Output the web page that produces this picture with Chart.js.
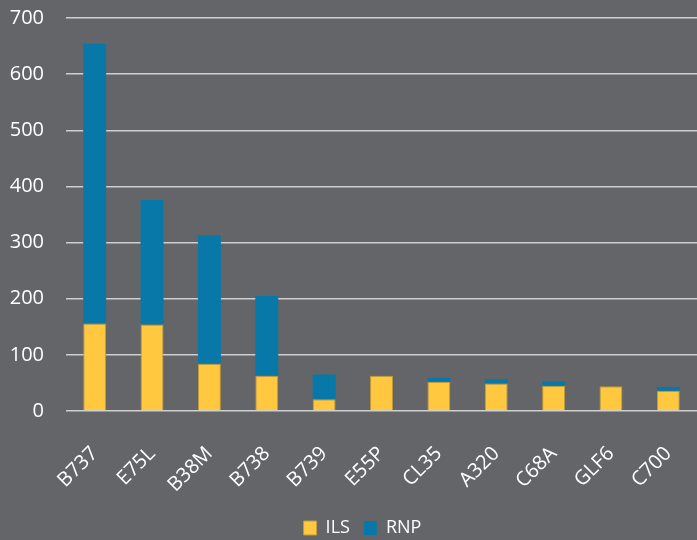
<!DOCTYPE html>
<html>
<head>
<meta charset="utf-8">
<script src="https://cdn.jsdelivr.net/npm/chart.js@4"></script>
<style>
  html, body { margin: 0; padding: 0; background: #636569; }
  #wrap { width: 697px; height: 540px; }
</style>
</head>
<body>
<div id="wrap"><canvas id="chart"></canvas></div>
<script>
const aircraft = ['B737', 'E75L', 'B38M', 'B738', 'B739', 'E55P', 'CL35', 'A320', 'C68A', 'GLF6', 'C700'];
const ilsCounts = [156, 154, 84, 63, 21, 63, 52, 49, 45, 44, 36];
const rnpCounts = [498, 222, 229, 142, 44, 0, 7, 8, 8, 0, 7];
const yTicks = [0, 100, 200, 300, 400, 500, 600, 700];

const textColor = '#ffffff';
const fontFamily = '"Open Sans", "DejaVu Sans", sans-serif';

// nudge the legend a little right, like the original
const legendShift = {
    id: 'legendShift',
    afterLayout(chart) {
        chart.legend.left += 10;
        chart.legend.right += 10;
    }
};

new Chart(document.getElementById('chart'), {
    type: 'bar',
    data: {
        labels: aircraft,
        datasets: [{
            label: 'ILS',
            data: ilsCounts,
            backgroundColor: '#ffc83f',
            borderColor: '#c09a3c',
            borderWidth: 1,
            barPercentage: 0.4,
            categoryPercentage: 1
        }, {
            label: 'RNP',
            data: rnpCounts,
            backgroundColor: '#0878a8',
            borderWidth: 0,
            barPercentage: 0.4,
            categoryPercentage: 1
        }]
    },
    plugins: [legendShift],
    options: {
        responsive: true,
        maintainAspectRatio: false,
        animation: false,
        layout: { padding: { top: 18, right: 0, left: 8, bottom: -7 } },
        plugins: {
            legend: {
                position: 'bottom',
                labels: {
                    color: textColor,
                    font: { family: fontFamily, size: 18 },
                    boxWidth: 13,
                    boxHeight: 14,
                    padding: 14
                }
            },
            tooltip: { enabled: false }
        },
        scales: {
            x: {
                stacked: true,
                grid: { display: false },
                border: { display: false },
                afterFit: scale => { scale.paddingLeft = 0; scale.paddingRight = 0; scale.height = 94; },
                ticks: {
                    color: textColor,
                    font: { family: fontFamily, size: 20 },
                    minRotation: 45,
                    maxRotation: 45,
                    padding: 23
                }
            },
            y: {
                stacked: true,
                min: 0,
                max: 700,
                afterBuildTicks: axis => { axis.ticks = yTicks.map(v => ({ value: v })); },
                afterFit: scale => { scale.paddingTop = 0; scale.paddingBottom = 0; scale.width = 58; },
                grid: { color: '#cfcfcf', lineWidth: 1.5, drawTicks: false },
                border: { display: false },
                ticks: {
                    color: textColor,
                    font: { family: fontFamily, size: 20 },
                    padding: 22
                }
            }
        }
    }
});
</script>
</body>
</html>
